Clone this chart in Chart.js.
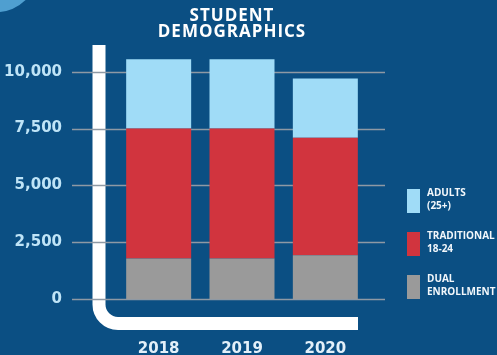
<!DOCTYPE html>
<html>
<head>
<meta charset="utf-8">
<title>Student Demographics</title>
<script src="https://cdn.jsdelivr.net/npm/chart.js@4.4.1/dist/chart.umd.min.js"></script>
<style>
    html, body { margin: 0; padding: 0; background: #0b4f83; }
    #graficoEstudiantes { display: block; }
</style>
</head>
<body>
<canvas id="graficoEstudiantes" width="497" height="355"></canvas>
<script>
// Datos por año (estudiantes)
const anios = ['2018', '2019', '2020'];
const dualEnrollment = [1780, 1780, 1920];
const tradicional = [5720, 5720, 5180];
const adultos = [3050, 3050, 2600];
const marcasEjeY = [0, 2500, 5000, 7500, 10000];
const tituloLineas = ['STUDENT', 'DEMOGRAPHICS'];

// Fondo azul con el círculo de la esquina
const pluginFondo = {
    id: 'fondo',
    beforeDraw(chart) {
        const ctx = chart.ctx;
        ctx.save();
        ctx.fillStyle = '#0b4f83';
        ctx.fillRect(0, 0, chart.width, chart.height);
        ctx.fillStyle = '#4f9fd0';
        ctx.beginPath();
        ctx.arc(-3, -28, 40, 0, Math.PI * 2);
        ctx.fill();
        ctx.restore();
    }
};

// Marco blanco en L y lineas de la cuadricula (detras de las barras)
const pluginMarco = {
    id: 'marco',
    beforeDatasetsDraw(chart) {
        const ctx = chart.ctx;
        const area = chart.chartArea;
        const ejeY = chart.scales.y;

        const xMarco = area.left - 18;
        const yMarco = area.bottom + 24.5;
        const radio = 19;
        ctx.save();
        ctx.strokeStyle = '#ffffff';
        ctx.lineWidth = 13;
        ctx.lineCap = 'butt';
        ctx.beginPath();
        ctx.moveTo(xMarco, 45);
        ctx.lineTo(xMarco, yMarco - radio);
        ctx.arcTo(xMarco, yMarco, xMarco + radio, yMarco, radio);
        ctx.lineTo(area.right - 9, yMarco);
        ctx.stroke();

        ctx.strokeStyle = '#8e99a4';
        ctx.lineWidth = 1.5;
        marcasEjeY.forEach(valor => {
            const y = Math.round(ejeY.getPixelForValue(valor)) + 0.5;
            ctx.beginPath();
            ctx.moveTo(area.left - 45, y);
            ctx.lineTo(area.right + 18, y);
            ctx.stroke();
        });
        ctx.restore();
    }
};

// Titulo y leyenda a la derecha
const pluginTextos = {
    id: 'textos',
    afterDraw(chart) {
        const ctx = chart.ctx;
        ctx.save();
        ctx.fillStyle = '#ffffff';
        ctx.textAlign = 'center';
        ctx.textBaseline = 'middle';
        ctx.font = 'bold 17px "Open Sans"';
        ctx.letterSpacing = '1px';
        tituloLineas.forEach((linea, i) => {
            ctx.fillText(linea, 232, 16 + i * 16);
        });
        ctx.letterSpacing = '0px';

        // La leyenda va en orden inverso a las series apiladas
        const series = chart.data.datasets.slice().reverse();
        ctx.textAlign = 'left';
        ctx.textBaseline = 'top';
        ctx.font = 'bold 10px "Open Sans"';
        series.forEach((serie, i) => {
            const y = 189 + i * 43;
            ctx.fillStyle = serie.backgroundColor;
            ctx.fillRect(407, y, 13, 24);
            ctx.fillStyle = '#f2f7fb';
            serie.label.split('\n').forEach((linea, j) => {
                ctx.fillText(linea, 427, y - 1 + j * 13);
            });
        });
        ctx.restore();
    }
};

const dataEstudiantes = {
    labels: anios,
    datasets: [
        { label: 'DUAL\nENROLLMENT', data: dualEnrollment, backgroundColor: '#9a9a9a' },
        { label: 'TRADITIONAL\n18-24', data: tradicional, backgroundColor: '#d1343e' },
        { label: 'ADULTS\n(25+)', data: adultos, backgroundColor: '#a0dcf7' }
    ]
};

const optionsEstudiantes = {
    responsive: false,
    animation: false,
    layout: { padding: { top: 49, right: 130, left: 0, bottom: 0 } },
    datasets: {
        bar: { barPercentage: 0.78, categoryPercentage: 1, borderWidth: 0 }
    },
    plugins: {
        legend: { display: false },
        title: { display: false },
        tooltip: { enabled: false }
    },
    scales: {
        x: {
            stacked: true,
            grid: { display: false, drawTicks: false },
            border: { display: false },
            ticks: {
                color: '#e3f0f9',
                padding: 41,
                font: { family: '"DejaVu Sans"', size: 15, weight: 'bold' }
            },
            afterFit(eje) {
                eje.height = 56;
                eje.paddingLeft = 0;
                eje.paddingRight = 0;
            }
        },
        y: {
            stacked: true,
            min: 0,
            max: 11000,
            grid: { display: false, drawTicks: false },
            border: { display: false },
            ticks: {
                color: '#bfe4f7',
                padding: 55,
                font: { family: '"DejaVu Sans"', size: 15, weight: 'bold' },
                callback: valor => valor.toLocaleString('en-US')
            },
            afterBuildTicks(eje) {
                eje.ticks = marcasEjeY.map(v => ({ value: v }));
            },
            afterFit(eje) {
                eje.width = 117;
                eje.paddingTop = 0;
                eje.paddingBottom = 0;
            }
        }
    }
};

const ctxEstudiantes = document.getElementById('graficoEstudiantes');
const graficoEstudiantes = new Chart(ctxEstudiantes, {
    type: 'bar',
    data: dataEstudiantes,
    options: optionsEstudiantes,
    plugins: [pluginFondo, pluginMarco, pluginTextos]
});
</script>
</body>
</html>
